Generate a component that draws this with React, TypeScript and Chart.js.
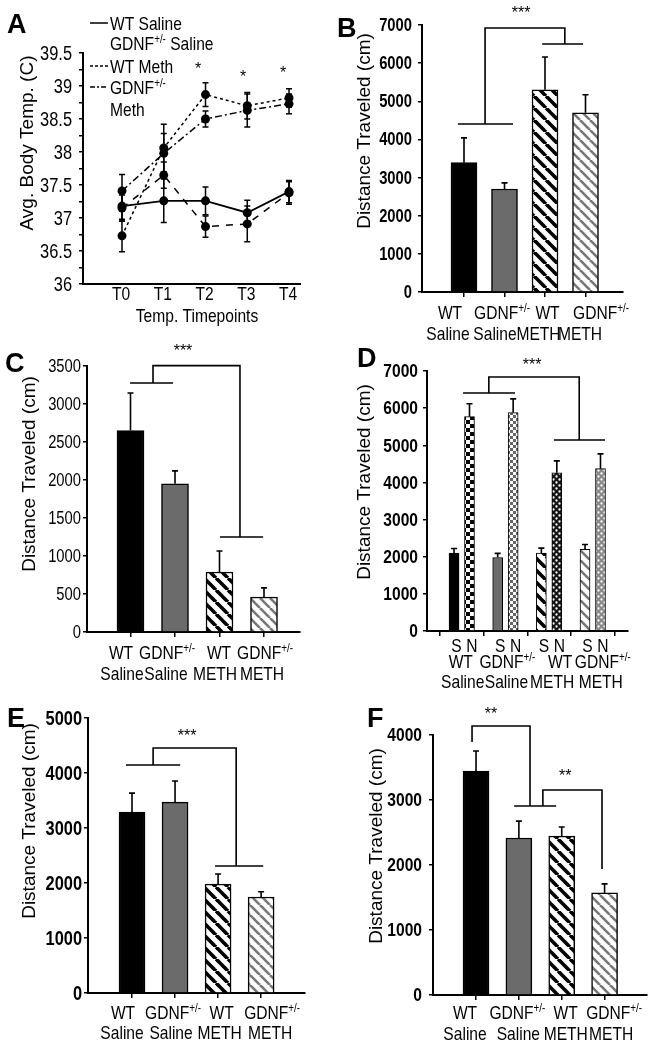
import React, { useEffect, useRef } from 'react';
import { Chart, registerables } from 'chart.js';

Chart.register(...registerables);

const SANS = '"Liberation Sans", Arial, Helvetica, sans-serif';
const SX = 0.82; // horizontal compression used to imitate a narrow face

// ---------------- Panel A: body temperature ----------------
const timepoints = ['T0', 'T1', 'T2', 'T3', 'T4'];
const tempWtSaline = [37.18, 37.26, 37.26, 37.08, 37.4];
const tempWtSalineErr = [0.2, 0.33, 0.21, 0.19, 0.17];
const tempGdnfSaline = [37.15, 37.65, 36.87, 36.91, 37.38];
const tempGdnfSalineErr = [0.2, 0.2, 0.16, 0.27, 0.17];
const tempWtMeth = [36.73, 38.06, 38.87, 38.7, 38.82];
const tempWtMethErr = [0.24, 0.36, 0.18, 0.2, 0.14];
const tempGdnfMeth = [37.41, 37.98, 38.5, 38.63, 38.73];
const tempGdnfMethErr = [0.25, 0.3, 0.12, 0.25, 0.15];
const tempLegend = ['WT Saline', 'GDNF+/- Saline', 'WT Meth', 'GDNF+/-', 'Meth'];
const tempYTitle = 'Avg. Body Temp. (C)';
const tempXTitle = 'Temp. Timepoints';

// ---------------- Bar panels ----------------
const groupTop = ['WT', 'GDNF+/-', 'WT', 'GDNF+/-'];
const groupBottom = ['Saline', 'Saline', 'METH', 'METH'];
const distTitle = 'Distance Traveled (cm)';

const bMeans = [3390, 2700, 5300, 4700];
const bErr = [650, 160, 860, 470];

const cMeans = [2650, 1950, 790, 460];
const cErr = [495, 170, 275, 120];

const dSubLabels = ['S', 'N'];
const dSalineMeans = [2100, 1980, 2100, 2200];
const dSalineErr = [120, 110, 130, 130];
const dNovelMeans = [5770, 5880, 4260, 4370];
const dNovelErr = [350, 370, 320, 400];

const eMeans = [3290, 3470, 1980, 1745];
const eErr = [345, 385, 185, 95];

const fMeans = [3445, 2415, 2445, 1570];
const fErr = [310, 260, 140, 140];

const groupX = [1, 2, 3, 4];

// ---------------- helpers ----------------
type Rect = { x: number; y: number; w: number; h: number };
type Area = { left: number; top: number; right: number; bottom: number };

function makePattern(kind: string): CanvasPattern | string {
  const c = document.createElement('canvas');
  const g = c.getContext('2d');
  if (!g) return '#fff';
  let s = 8;
  if (kind === 'stripeBlack' || kind === 'stripeGrey') {
    s = kind === 'stripeBlack' ? 12 : 10;
    c.width = s; c.height = s;
    g.fillStyle = '#fff'; g.fillRect(0, 0, s, s);
    g.strokeStyle = kind === 'stripeBlack' ? '#000' : '#777';
    g.lineWidth = kind === 'stripeBlack' ? 3.6 : 2.6;
    for (const o of [-s, 0, s]) {
      g.beginPath(); g.moveTo(o, 0); g.lineTo(o + s, s); g.stroke();
    }
  } else if (kind === 'checkBlack') {
    s = 8; c.width = s; c.height = s;
    g.fillStyle = '#fff'; g.fillRect(0, 0, s, s);
    g.fillStyle = '#000'; g.fillRect(0, 0, 4, 4); g.fillRect(4, 4, 4, 4);
  } else if (kind === 'checkGrey') {
    s = 6; c.width = s; c.height = s;
    g.fillStyle = '#fff'; g.fillRect(0, 0, s, s);
    g.fillStyle = '#666'; g.fillRect(0, 0, 3, 3); g.fillRect(3, 3, 3, 3);
  } else if (kind === 'dotsDark' || kind === 'dotsGrey') {
    s = 6; c.width = s; c.height = s;
    g.fillStyle = kind === 'dotsDark' ? '#151515' : '#8a8a8a'; g.fillRect(0, 0, s, s);
    g.fillStyle = '#fff';
    for (const [px, py] of [[1.5, 1.5], [4.5, 4.5]]) {
      g.beginPath(); g.arc(px, py, 1.15, 0, Math.PI * 2); g.fill();
    }
  }
  return g.createPattern(c, 'repeat') || '#fff';
}

function fillScaled(ctx: CanvasRenderingContext2D, text: string, x: number, y: number, sx: number) {
  ctx.save();
  ctx.translate(x, y);
  ctx.scale(sx, 1);
  ctx.fillText(text, 0, 0);
  ctx.restore();
}

function richParts(t: string) {
  const i = t.indexOf('+/-');
  if (i < 0) return [{ t, sup: false }];
  const out: { t: string; sup: boolean }[] = [];
  if (i > 0) out.push({ t: t.slice(0, i), sup: false });
  out.push({ t: '+/-', sup: true });
  if (i + 3 < t.length) out.push({ t: t.slice(i + 3), sup: false });
  return out;
}

function drawRich(ctx: CanvasRenderingContext2D, t: string, x: number, yc: number, size: number, align: 'center' | 'left') {
  const parts = richParts(t);
  const supSize = Math.round(size * 0.64);
  const widths = parts.map((p) => {
    ctx.font = `${p.sup ? supSize : size}px ${SANS}`;
    return ctx.measureText(p.t).width * SX;
  });
  const total = widths.reduce((a, b) => a + b, 0);
  let cx = align === 'center' ? x - total / 2 : x;
  const base = yc + size * 0.36;
  ctx.textAlign = 'left';
  ctx.textBaseline = 'alphabetic';
  parts.forEach((p, i) => {
    ctx.font = `${p.sup ? supSize : size}px ${SANS}`;
    fillScaled(ctx, p.t, cx, p.sup ? base - size * 0.36 : base, SX);
    cx += widths[i];
  });
}

function drawLetter(ctx: CanvasRenderingContext2D, text: string, x: number, y: number) {
  ctx.font = `bold 27px ${SANS}`;
  ctx.textAlign = 'left';
  ctx.textBaseline = 'alphabetic';
  ctx.fillText(text, x, y);
}

function drawYTitle(ctx: CanvasRenderingContext2D, text: string, x: number, y: number) {
  ctx.save();
  ctx.translate(x, y);
  ctx.rotate(-Math.PI / 2);
  ctx.font = `19px ${SANS}`;
  ctx.textAlign = 'center';
  ctx.textBaseline = 'middle';
  ctx.fillText(text, 0, 0);
  ctx.restore();
}

function drawStars(ctx: CanvasRenderingContext2D, text: string, x: number, y: number, size: number) {
  ctx.font = `${size}px ${SANS}`;
  ctx.textAlign = 'center';
  ctx.textBaseline = 'middle';
  ctx.fillText(text, x, y + size * 0.2);
}

// y tick labels: taken from the library's own y ticks, drawn condensed
function drawYTickLabels(chart: any, size: number, bold: boolean, gap: number, keep: (v: number) => boolean) {
  const ctx: CanvasRenderingContext2D = chart.ctx;
  const ys = chart.scales.y;
  const x = chart.chartArea.left - gap;
  ctx.save();
  ctx.fillStyle = '#000';
  ctx.font = `${bold ? 'bold ' : ''}${size}px ${SANS}`;
  ctx.textAlign = 'right';
  ctx.textBaseline = 'middle';
  for (const t of ys.ticks) {
    if (!keep(t.value)) continue;
    fillScaled(ctx, String(Number(t.value.toFixed(2))), x, ys.getPixelForValue(t.value) + 1, SX);
  }
  ctx.restore();
}

function axisCommon() {
  return { display: true, color: '#000', width: 2 };
}

// ---------------- Bar panel spec ----------------
type BarSeries = { x: number[]; y: number[]; err: number[]; fill: (string | CanvasPattern)[] };
type LabelRow = { y: number; items: { text: string; at: number; dx: number }[] };
type BarSpec = {
  key: string;
  canvas: Rect;
  area: Area;
  xMin: number; xMax: number;
  yMax: number; yStep: number;
  tickSize: number; tickBold: boolean; tickGap: number;
  barWidth: number; barBorder: number;
  xTicks: number[];
  letter: { text: string; x: number; y: number };
  yTitle: { x: number; y: number };
  rows: LabelRow[];
  brackets: number[][][];
  stars: { text: string; x: number; y: number; size: number }[];
  series: () => BarSeries[];
};

function rowsFrom(top: string[], bottom: string[], yTop: number, yBot: number, dxTop: number[], dxBot: number[]): LabelRow[] {
  return [
    { y: yTop, items: top.map((t, i) => ({ text: t, at: groupX[i], dx: dxTop[i] })) },
    { y: yBot, items: bottom.map((t, i) => ({ text: t, at: groupX[i], dx: dxBot[i] })) },
  ];
}

function buildBar(spec: BarSpec) {
  const cv = spec.canvas;
  const ca = spec.area;
  const series = spec.series();
  const decor = {
    id: 'decor_' + spec.key,
    afterDatasetsDraw(chart: any) {
      const ctx: CanvasRenderingContext2D = chart.ctx;
      const ys = chart.scales.y;
      ctx.save();
      ctx.strokeStyle = '#000';
      ctx.lineWidth = 1.6;
      series.forEach((s, di) => {
        const meta = chart.getDatasetMeta(di);
        s.y.forEach((v, i) => {
          const el = meta.data[i];
          if (!el) return;
          const x = el.x;
          const y0 = ys.getPixelForValue(v);
          const y1 = ys.getPixelForValue(v + s.err[i]);
          ctx.beginPath();
          ctx.moveTo(x, y0); ctx.lineTo(x, y1);
          ctx.moveTo(x - 3, y1); ctx.lineTo(x + 3, y1);
          ctx.stroke();
        });
      });
      ctx.restore();
    },
    afterDraw(chart: any) {
      const ctx: CanvasRenderingContext2D = chart.ctx;
      const xs = chart.scales.x;
      const ys = chart.scales.y;
      drawYTickLabels(chart, spec.tickSize, spec.tickBold, spec.tickGap, () => true);
      ctx.save();
      ctx.fillStyle = '#000';
      ctx.strokeStyle = '#000';
      ctx.lineWidth = 1.6;
      for (const br of spec.brackets) {
        ctx.beginPath();
        br.forEach(([bx, by], i) => {
          const X = xs.getPixelForValue(bx);
          const Y = ys.getPixelForValue(by);
          if (i === 0) ctx.moveTo(X, Y); else ctx.lineTo(X, Y);
        });
        ctx.stroke();
      }
      for (const st of spec.stars) {
        drawStars(ctx, st.text, xs.getPixelForValue(st.x), ys.getPixelForValue(st.y), st.size);
      }
      for (const row of spec.rows) {
        for (const it of row.items) {
          drawRich(ctx, it.text, xs.getPixelForValue(it.at) + it.dx, row.y - cv.y, 19, 'center');
        }
      }
      drawLetter(ctx, spec.letter.text, spec.letter.x - cv.x, spec.letter.y - cv.y);
      drawYTitle(ctx, distTitle, spec.yTitle.x - cv.x, spec.yTitle.y - cv.y);
      ctx.restore();
    },
  };
  return {
    type: 'bar',
    data: {
      datasets: series.map((s) => ({
        data: s.x.map((xv, i) => ({ x: xv, y: s.y[i] })),
        backgroundColor: s.fill,
        borderColor: '#000',
        borderWidth: spec.barBorder,
        barThickness: spec.barWidth,
        grouped: false,
      })),
    },
    options: {
      responsive: false,
      animation: false,
      events: [],
      layout: { padding: { left: 0, top: ca.top - cv.y, right: cv.x + cv.w - ca.right, bottom: 0 } },
      plugins: { legend: { display: false }, tooltip: { enabled: false } },
      scales: {
        x: {
          type: 'linear',
          min: spec.xMin,
          max: spec.xMax,
          offset: false,
          afterFit(s: any) { s.height = cv.y + cv.h - ca.bottom; },
          afterBuildTicks(s: any) { s.ticks = spec.xTicks.map((v) => ({ value: v })); },
          ticks: { display: false },
          grid: { display: true, offset: false, drawOnChartArea: false, drawTicks: true, tickLength: 5, color: '#000', lineWidth: 1.5 },
          border: axisCommon(),
        },
        y: {
          type: 'linear',
          min: 0,
          max: spec.yMax,
          afterFit(s: any) { s.width = ca.left - cv.x; },
          ticks: { display: false, stepSize: spec.yStep, autoSkip: false },
          grid: { display: true, drawOnChartArea: false, drawTicks: true, tickLength: 4, color: '#000', lineWidth: 1.5 },
          border: axisCommon(),
        },
      },
    },
    plugins: [decor],
  };
}

// ---------------- Panel A spec ----------------
function buildA() {
  const cv = { x: 0, y: 0, w: 322, h: 330 };
  const ca = { left: 83, top: 53, right: 300, bottom: 284 };
  const xIdx = timepoints.map((_, i) => i);
  const series = [
    { y: tempWtSaline, err: tempWtSalineErr, dash: [] as number[], w: 1.8 },
    { y: tempGdnfSaline, err: tempGdnfSalineErr, dash: [7, 7], w: 1.5 },
    { y: tempWtMeth, err: tempWtMethErr, dash: [3, 3], w: 1.5 },
    { y: tempGdnfMeth, err: tempGdnfMethErr, dash: [7, 3, 2, 3], w: 1.5 },
  ];
  const stars = [
    { x: 1.82, y: 39.29 },
    { x: 2.9, y: 39.17 },
    { x: 3.86, y: 39.23 },
  ];
  const legendRows = [
    { text: tempLegend[0], y: 23, dash: [] as number[] | null },
    { text: tempLegend[1], y: 43, dash: null },
    { text: tempLegend[2], y: 66, dash: [3, 2] },
    { text: tempLegend[3], y: 87, dash: [5, 2, 2, 2] },
    { text: tempLegend[4], y: 109, dash: null },
  ];
  const decor = {
    id: 'decorA',
    afterDatasetsDraw(chart: any) {
      const ctx: CanvasRenderingContext2D = chart.ctx;
      const ys = chart.scales.y;
      ctx.save();
      ctx.strokeStyle = '#000';
      ctx.lineWidth = 1.5;
      series.forEach((s, di) => {
        const meta = chart.getDatasetMeta(di);
        s.y.forEach((v, i) => {
          const el = meta.data[i];
          if (!el) return;
          const x = el.x;
          const y1 = ys.getPixelForValue(v + s.err[i]);
          const y2 = ys.getPixelForValue(v - s.err[i]);
          ctx.beginPath();
          ctx.moveTo(x, y1); ctx.lineTo(x, y2);
          ctx.moveTo(x - 3, y1); ctx.lineTo(x + 3, y1);
          ctx.moveTo(x - 3, y2); ctx.lineTo(x + 3, y2);
          ctx.stroke();
        });
      });
      ctx.restore();
    },
    afterDraw(chart: any) {
      const ctx: CanvasRenderingContext2D = chart.ctx;
      const xs = chart.scales.x;
      const ys = chart.scales.y;
      drawYTickLabels(chart, 20, false, 11, (v) => Math.abs(v * 2 - Math.round(v * 2)) < 1e-6);
      ctx.save();
      ctx.fillStyle = '#000';
      ctx.strokeStyle = '#000';
      for (const st of stars) drawStars(ctx, '*', xs.getPixelForValue(st.x), ys.getPixelForValue(st.y), 16);
      ctx.font = `19px ${SANS}`;
      ctx.textAlign = 'center';
      ctx.textBaseline = 'middle';
      timepoints.forEach((t, i) => fillScaled(ctx, t, xs.getPixelForValue(i) - 1, 295 - cv.y, SX));
      fillScaled(ctx, tempXTitle, 197 - cv.x, 317 - cv.y, SX);
      for (const r of legendRows) {
        if (r.dash) {
          ctx.save();
          ctx.lineWidth = 1.5;
          ctx.setLineDash(r.dash);
          ctx.beginPath(); ctx.moveTo(90 - cv.x, r.y - cv.y); ctx.lineTo(108 - cv.x, r.y - cv.y); ctx.stroke();
          ctx.restore();
        }
        drawRich(ctx, r.text, 110 - cv.x, r.y - cv.y, 19, 'left');
      }
      drawLetter(ctx, 'A', 7 - cv.x, 33 - cv.y);
      drawYTitle(ctx, tempYTitle, 28 - cv.x, 143 - cv.y);
      ctx.restore();
    },
  };
  return {
    type: 'line',
    data: {
      datasets: series.map((s) => ({
        data: xIdx.map((i) => ({ x: i, y: s.y[i] })),
        borderColor: '#000',
        borderWidth: s.w,
        borderDash: s.dash,
        pointRadius: 4.5,
        pointBackgroundColor: '#000',
        pointBorderWidth: 0,
        fill: false,
        tension: 0,
      })),
    },
    options: {
      responsive: false,
      animation: false,
      events: [],
      layout: { padding: { left: 0, top: ca.top - cv.y, right: cv.x + cv.w - ca.right, bottom: 0 } },
      plugins: { legend: { display: false }, tooltip: { enabled: false } },
      scales: {
        x: {
          type: 'linear',
          min: -0.934,
          max: 4.263,
          afterFit(s: any) { s.height = cv.y + cv.h - ca.bottom; },
          afterBuildTicks(s: any) { s.ticks = []; },
          ticks: { display: false },
          grid: { display: false },
          border: axisCommon(),
        },
        y: {
          type: 'linear',
          min: 36,
          max: 39.5,
          afterFit(s: any) { s.width = ca.left - cv.x; },
          ticks: { display: false, stepSize: 0.25, autoSkip: false },
          grid: { display: true, drawOnChartArea: false, drawTicks: true, tickLength: 4, color: '#000', lineWidth: 1.5 },
          border: axisCommon(),
        },
      },
    },
    plugins: [decor],
  };
}

// ---------------- specs ----------------
function fourFills() {
  return ['#000', '#6b6b6b', makePattern('stripeBlack'), makePattern('stripeGrey')];
}

const specB: BarSpec = {
  key: 'B',
  canvas: { x: 330, y: 0, w: 327, h: 345 },
  area: { left: 422, top: 25, right: 623, bottom: 292 },
  xMin: -0.037, xMax: 4.926, yMax: 7000, yStep: 1000,
  tickSize: 18, tickBold: true, tickGap: 10,
  barWidth: 26, barBorder: 1.5, xTicks: groupX,
  letter: { text: 'B', x: 337, y: 37 },
  yTitle: { x: 365, y: 131 },
  rows: rowsFrom(groupTop, groupBottom, 312, 333, [-14, -2.5, 2.5, 15.5], [-16, -9.5, -6.5, -5.5]),
  brackets: [
    [[0.85, 4405], [2.21, 4405]],
    [[1.52, 4405], [1.52, 6920], [3.49, 6920], [3.49, 6500]],
    [[2.93, 6500], [3.94, 6500]],
  ],
  stars: [{ text: '***', x: 2.41, y: 7390, size: 16 }],
  series: () => [{ x: groupX, y: bMeans, err: bErr, fill: fourFills() }],
};

const specC: BarSpec = {
  key: 'C',
  canvas: { x: 0, y: 338, w: 322, h: 352 },
  area: { left: 87, top: 366, right: 300, bottom: 632 },
  xMin: 0.0225, xMax: 4.809, yMax: 3500, yStep: 500,
  tickSize: 18, tickBold: false, tickGap: 6,
  barWidth: 27, barBorder: 1.5, xTicks: groupX,
  letter: { text: 'C', x: 5, y: 372 },
  yTitle: { x: 30, y: 474 },
  rows: rowsFrom(groupTop, groupBottom, 652, 673, [-9.5, -8, -0.5, 1], [-8.5, -9, -4.5, -2]),
  brackets: [
    [[0.99, 3276], [1.955, 3276]],
    [[1.506, 3276], [1.506, 3505], [3.46, 3505], [3.46, 1250]],
    [[3.01, 1250], [3.98, 1250]],
  ],
  stars: [{ text: '***', x: 2.18, y: 3737, size: 16 }],
  series: () => [{ x: groupX, y: cMeans, err: cErr, fill: fourFills() }],
};

const dOff = 0.177;
const specD: BarSpec = {
  key: 'D',
  canvas: { x: 330, y: 340, w: 327, h: 352 },
  area: { left: 427, top: 371, right: 628, bottom: 631 },
  xMin: 0.204, xMax: 4.807, yMax: 7000, yStep: 1000,
  tickSize: 19, tickBold: true, tickGap: 9,
  barWidth: 10, barBorder: 1, xTicks: [0.5, 1.5, 2.5, 3.5, 4.5],
  letter: { text: 'D', x: 357, y: 367 },
  yTitle: { x: 365, y: 482 },
  rows: [
    {
      y: 645,
      items: groupX.flatMap((g) => [
        { text: dSubLabels[0], at: g - dOff, dx: 2.5 },
        { text: dSubLabels[1], at: g + dOff, dx: 2.5 },
      ]),
    },
    { y: 661, items: groupTop.map((t, i) => ({ text: t, at: groupX[i], dx: [-1, 2, 11, 10][i] })) },
    { y: 681, items: groupBottom.map((t, i) => ({ text: t, at: groupX[i], dx: [1, 1, 3, 8][i] })) },
  ],
  brackets: [
    [[1.03, 6408], [2.22, 6408]],
    [[1.62, 6408], [1.62, 6839], [3.69, 6839], [3.69, 5143]],
    [[3.11, 5143], [4.28, 5143]],
  ],
  stars: [{ text: '***', x: 2.61, y: 7243, size: 16 }],
  series: () => [
    { x: groupX.map((g) => g - dOff), y: dSalineMeans, err: dSalineErr, fill: ['#000', '#6b6b6b', makePattern('stripeBlack'), makePattern('stripeGrey')] },
    { x: groupX.map((g) => g + dOff), y: dNovelMeans, err: dNovelErr, fill: [makePattern('checkBlack'), makePattern('checkGrey'), makePattern('dotsDark'), makePattern('dotsGrey')] },
  ],
};

const specE: BarSpec = {
  key: 'E',
  canvas: { x: 0, y: 695, w: 325, h: 355 },
  area: { left: 88, top: 718, right: 305, bottom: 993 },
  xMin: -0.023, xMax: 5.02, yMax: 5000, yStep: 1000,
  tickSize: 20, tickBold: true, tickGap: 6,
  barWidth: 26, barBorder: 1.5, xTicks: groupX,
  letter: { text: 'E', x: 7, y: 727 },
  yTitle: { x: 30, y: 821 },
  rows: rowsFrom(groupTop, groupBottom, 1012, 1032, [-9, -2, 3.5, 11], [-10, -4, 1.5, 9]),
  brackets: [
    [[0.86, 4145], [2.12, 4145]],
    [[1.49, 4145], [1.49, 4455], [3.42, 4455], [3.42, 2309]],
    [[2.93, 2309], [4.05, 2309]],
  ],
  stars: [{ text: '***', x: 2.28, y: 4727, size: 16 }],
  series: () => [{ x: groupX, y: eMeans, err: eErr, fill: fourFills() }],
};

const specF: BarSpec = {
  key: 'F',
  canvas: { x: 330, y: 695, w: 327, h: 355 },
  area: { left: 433, top: 735, right: 647, bottom: 995 },
  xMin: -0.004, xMax: 4.99, yMax: 4000, yStep: 1000,
  tickSize: 19, tickBold: true, tickGap: 11,
  barWidth: 26, barBorder: 1.5, xTicks: groupX,
  letter: { text: 'F', x: 367, y: 727 },
  yTitle: { x: 377, y: 846 },
  rows: rowsFrom(groupTop, groupBottom, 1012, 1033, [-11, -1.5, 4, 9.5], [-11, -0.5, 4, 6.5]),
  brackets: [
    [[0.907, 3892], [0.907, 4138], [2.26, 4138], [2.26, 2908]],
    [[1.89, 2908], [2.87, 2908]],
    [[2.56, 2908], [2.56, 3154], [3.94, 3154], [3.94, 1938]],
  ],
  stars: [
    { text: '**', x: 1.35, y: 4369, size: 16 },
    { text: '**', x: 3.08, y: 3415, size: 16 },
  ],
  series: () => [{ x: groupX, y: fMeans, err: fErr, fill: fourFills() }],
};

// ---------------- components ----------------
function ChartCanvas({ rect, build }: { rect: Rect; build: () => any }) {
  const ref = useRef<HTMLCanvasElement>(null);
  useEffect(() => {
    if (!ref.current) return;
    const chart = new Chart(ref.current, build());
    return () => chart.destroy();
  }, []);
  return (
    <canvas
      ref={ref}
      width={rect.w}
      height={rect.h}
      style={{ position: 'absolute', left: rect.x, top: rect.y, width: rect.w, height: rect.h }}
    />
  );
}

export default function App() {
  return (
    <div style={{ position: 'absolute', left: 0, top: 0, width: 657, height: 1050, background: '#fff', overflow: 'hidden' }}>
      <ChartCanvas rect={{ x: 0, y: 0, w: 322, h: 330 }} build={buildA} />
      <ChartCanvas rect={specB.canvas} build={() => buildBar(specB)} />
      <ChartCanvas rect={specC.canvas} build={() => buildBar(specC)} />
      <ChartCanvas rect={specD.canvas} build={() => buildBar(specD)} />
      <ChartCanvas rect={specE.canvas} build={() => buildBar(specE)} />
      <ChartCanvas rect={specF.canvas} build={() => buildBar(specF)} />
    </div>
  );
}
